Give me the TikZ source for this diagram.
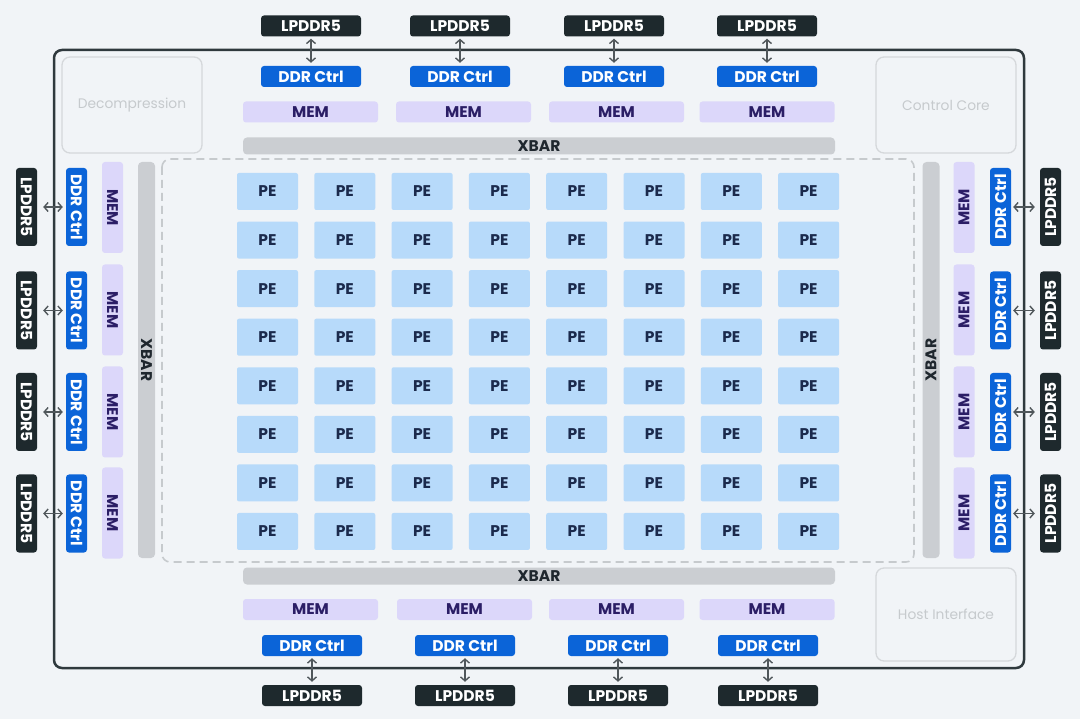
\documentclass[tikz,border=0pt]{standalone}
\usepackage{fontspec}
\setmainfont{Poppins}
\usetikzlibrary{arrows.meta}
\definecolor{bgc}{HTML}{F1F4F7}
\definecolor{chipc}{HTML}{2F393D}
\definecolor{lpc}{HTML}{1E292D}
\definecolor{ddrc}{HTML}{0B64D8}
\definecolor{memc}{HTML}{DCD7FA}
\definecolor{memt}{HTML}{2B1E66}
\definecolor{pec}{HTML}{B7DAFA}
\definecolor{pet}{HTML}{1B2A4C}
\definecolor{xbc}{HTML}{CBCED2}
\definecolor{xbt}{HTML}{1F272E}
\definecolor{ghc}{HTML}{D5D8DB}
\definecolor{ght}{HTML}{C6CACD}
\definecolor{dashc}{HTML}{C6CACD}
\definecolor{arc}{HTML}{50575B}
\newcommand{\lblfont}{\fontsize{15.5}{17}\selectfont\bfseries}
\newcommand{\ghfont}{\fontsize{13.8}{15}\selectfont}
\tikzset{
  basebox/.style={inner sep=0pt, rounded corners=3pt, font=\lblfont},
  lpbox/.style={basebox, fill=lpc, text=white, minimum width=100pt, minimum height=21pt},
  ddrbox/.style={basebox, fill=ddrc, text=white, minimum width=100pt, minimum height=21pt},
  membox/.style={basebox, fill=memc, text=memt, minimum width=135pt, minimum height=21pt},
  vlpbox/.style={lpbox, minimum width=78pt},
  vddrbox/.style={ddrbox, minimum width=78pt},
  vmembox/.style={membox, minimum width=91pt},
  pebox/.style={basebox, rounded corners=2pt, fill=pec, text=pet, minimum width=61pt, minimum height=37pt},
  xbarbox/.style={basebox, rounded corners=4pt, fill=xbc, text=xbt, minimum height=17pt},
  ghostbox/.style={draw=ghc, line width=1.3pt, rounded corners=8pt, text=ght, font=\ghfont, inner sep=0pt, minimum width=140pt},
  link/.style={draw=arc, line width=1.4pt, {Straight Barb[length=4pt,width=9pt]}-{Straight Barb[length=4pt,width=9pt]}}
}
\begin{document}
\begin{tikzpicture}[x=1pt,y=-1pt]
\fill[bgc] (0,0) rectangle (1080,719);
\useasboundingbox (0,0) rectangle (1080,719);
% chip outline
\draw[chipc, line width=2.5pt, rounded corners=8pt] (54,50) rectangle (1024,668);
% PE region
\draw[dashc, line width=1.6pt, dash pattern=on 8pt off 5pt, rounded corners=8pt] (162,159) rectangle (914,562);
% ghost blocks
\node[ghostbox, minimum height=96pt] (decomp) at (132,105) {Decompression};
\node[ghostbox, minimum height=96pt] (ctrl) at (946,105) {Control Core};
\node[ghostbox, minimum height=93pt] (host) at (946,614.5) {Host Interface};
% XBARs
\node[xbarbox, minimum width=592pt] (xbt) at (539,146) {XBAR};
\node[xbarbox, minimum width=592pt] (xbb) at (539,576) {XBAR};
\node[xbarbox, minimum width=396pt, rotate=-90] (xbl) at (146.5,360) {XBAR};
\node[xbarbox, minimum width=396pt, rotate=90] (xbr) at (931,360) {XBAR};
% top and bottom memory channels
\foreach \i/\xt/\xm/\xb/\xbm in {1/311/310.5/312/310.5, 2/460/463.5/465/464.5, 3/614/616.5/618/616.5, 4/767/767/768/767}{
  \node[lpbox] (lpT\i) at (\xt,26) {LPDDR5};
  \node[ddrbox] (ddrT\i) at (\xt,76.5) {DDR Ctrl};
  \node[membox] (memT\i) at (\xm,112) {MEM};
  \node[membox] (memB\i) at (\xbm,609.5) {MEM};
  \node[ddrbox] (ddrB\i) at (\xb,645.5) {DDR Ctrl};
  \node[lpbox] (lpB\i) at (\xb,695.5) {LPDDR5};
  \draw[link, shorten <=2pt, shorten >=3pt] (lpT\i) -- (ddrT\i);
  \draw[link, shorten <=2pt, shorten >=3pt] (ddrB\i) -- (lpB\i);
}
% left and right memory channels
\foreach \i/\yd/\ym in {1/207/207.5, 2/310.5/310, 3/412/412, 4/513.5/513}{
  \node[vlpbox, rotate=-90] (lpL\i) at (26.5,\yd) {LPDDR5};
  \node[vddrbox, rotate=-90] (ddrL\i) at (76.5,\yd) {DDR Ctrl};
  \node[vmembox, rotate=-90] (memL\i) at (112.5,\ym) {MEM};
  \node[vmembox, rotate=90] (memR\i) at (964,\ym) {MEM};
  \node[vddrbox, rotate=90] (ddrR\i) at (1000.5,\yd) {DDR Ctrl};
  \node[vlpbox, rotate=90] (lpR\i) at (1050.5,\yd) {LPDDR5};
  \draw[link, shorten <=6pt, shorten >=3pt] (lpL\i) -- (ddrL\i);
  \draw[link, shorten <=2pt, shorten >=5pt] (ddrR\i) -- (lpR\i);
}
% PE array
\foreach \r in {0,...,7}{
  \foreach \c in {0,...,7}{
    \node[pebox] (pe-\r-\c) at ({267.5+77.3*\c},{191.5+48.57*\r}) {PE};
  }
}
\end{tikzpicture}
\end{document}
